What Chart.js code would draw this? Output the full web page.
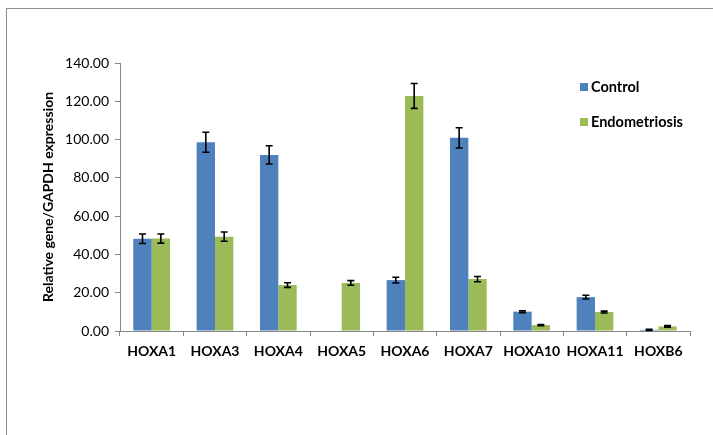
<!DOCTYPE html>
<html><head><meta charset="utf-8">
<script src="https://cdn.jsdelivr.net/npm/chart.js@4.4.1/dist/chart.umd.min.js"></script>
<style>
html,body{margin:0;padding:0;background:#fff;overflow:hidden;}
#wrap{position:relative;width:713px;height:435px;}
#frame{position:absolute;left:6px;top:8px;width:800px;height:600px;border:1px solid #8c8c8c;}
canvas{position:absolute;left:0;top:0;}
</style></head>
<body>
<div id="wrap"><div id="frame"></div><canvas id="c" width="713" height="435"></canvas></div>
<script>
const categories = ['HOXA1','HOXA3','HOXA4','HOXA5','HOXA6','HOXA7','HOXA10','HOXA11','HOXB6'];
const controlValues = [48.2, 98.6, 92.0, 0, 26.6, 100.9, 10.1, 17.7, 0.6];
const controlErrors = [2.5, 5.2, 4.8, 0, 1.5, 5.3, 0.5, 1.0, 0.3];
const endoValues = [48.3, 49.3, 24.0, 25.1, 122.8, 27.1, 3.1, 9.9, 2.4];
const endoErrors = [2.4, 2.4, 1.2, 1.2, 6.5, 1.4, 0.3, 0.5, 0.4];
const yTicks = [0, 20, 40, 60, 80, 100, 120, 140];
const seriesNames = ['Control', 'Endometriosis'];
const errorsBySeries = [controlErrors, endoErrors];

const axisColor = '#868686';
const fontFam = 'Lato, "Open Sans", sans-serif';

const errorBarPlugin = {
  id: 'errorBars',
  afterDatasetsDraw(chart) {
    const ctx = chart.ctx;
    const y = chart.scales.y;
    ctx.save();
    ctx.strokeStyle = '#000';
    ctx.lineWidth = 1.6;
    chart.data.datasets.forEach((ds, di) => {
      const meta = chart.getDatasetMeta(di);
      const errs = errorsBySeries[di];
      meta.data.forEach((bar, i) => {
        const v = ds.data[i], e = errs[i];
        if (!e) return;
        const x = bar.x;
        const yt = y.getPixelForValue(v + e);
        const yb = y.getPixelForValue(Math.max(0, v - e));
        ctx.beginPath();
        ctx.moveTo(x, yt); ctx.lineTo(x, yb);
        ctx.moveTo(x - 3.5, yt); ctx.lineTo(x + 3.5, yt);
        ctx.moveTo(x - 3.5, yb); ctx.lineTo(x + 3.5, yb);
        ctx.stroke();
      });
    });
    ctx.restore();
  }
};

const legendPlugin = {
  id: 'customLegend',
  afterDraw(chart) {
    const ctx = chart.ctx;
    ctx.save();
    ctx.font = 'bold 14.5px ' + fontFam;
    ctx.textBaseline = 'middle';
    const rows = [87, 122];
    chart.data.datasets.forEach((ds, i) => {
      ctx.fillStyle = ds.backgroundColor;
      ctx.fillRect(580, rows[i] - 4, 8, 8);
      ctx.fillStyle = '#000';
      ctx.fillText(ds.label, 591, rows[i]);
    });
    ctx.restore();
  }
};

new Chart(document.getElementById('c'), {
  type: 'bar',
  data: {
    labels: categories,
    datasets: [
      { label: seriesNames[0], data: controlValues, backgroundColor: '#4F81BD' },
      { label: seriesNames[1], data: endoValues, backgroundColor: '#9BBB59' }
    ]
  },
  options: {
    responsive: false,
    animation: false,
    devicePixelRatio: 1,
    layout: { padding: { left: 0, right: 23, top: 63, bottom: 0 } },
    datasets: { bar: { categoryPercentage: 0.58, barPercentage: 1.0 } },
    plugins: { legend: { display: false }, tooltip: { enabled: false } },
    scales: {
      x: {
        grid: { display: true, drawOnChartArea: false, offset: true, color: axisColor, tickLength: 5 },
        border: { color: axisColor, width: 1 },
        ticks: { color: '#000', font: { family: fontFam, size: 14, weight: 'bold' }, padding: 7 },
        afterFit: s => { s.height = 104; }
      },
      y: {
        min: 0, max: 140,
        afterBuildTicks: s => { s.ticks = yTicks.map(v => ({ value: v })); },
        grid: { display: true, drawOnChartArea: false, color: axisColor, tickLength: 5 },
        border: { color: axisColor, width: 1 },
        ticks: { color: '#000', font: { family: fontFam, size: 14 }, padding: 6,
                 callback: v => Number(v).toFixed(2) },
        title: { display: true, text: 'Relative gene/GAPDH expression', color: '#000',
                 font: { family: fontFam, size: 14, weight: 'bold' }, padding: { top: 40, bottom: 0 } },
        afterFit: s => { s.width = 120; }
      }
    }
  },
  plugins: [errorBarPlugin, legendPlugin]
});
</script>
</body></html>
